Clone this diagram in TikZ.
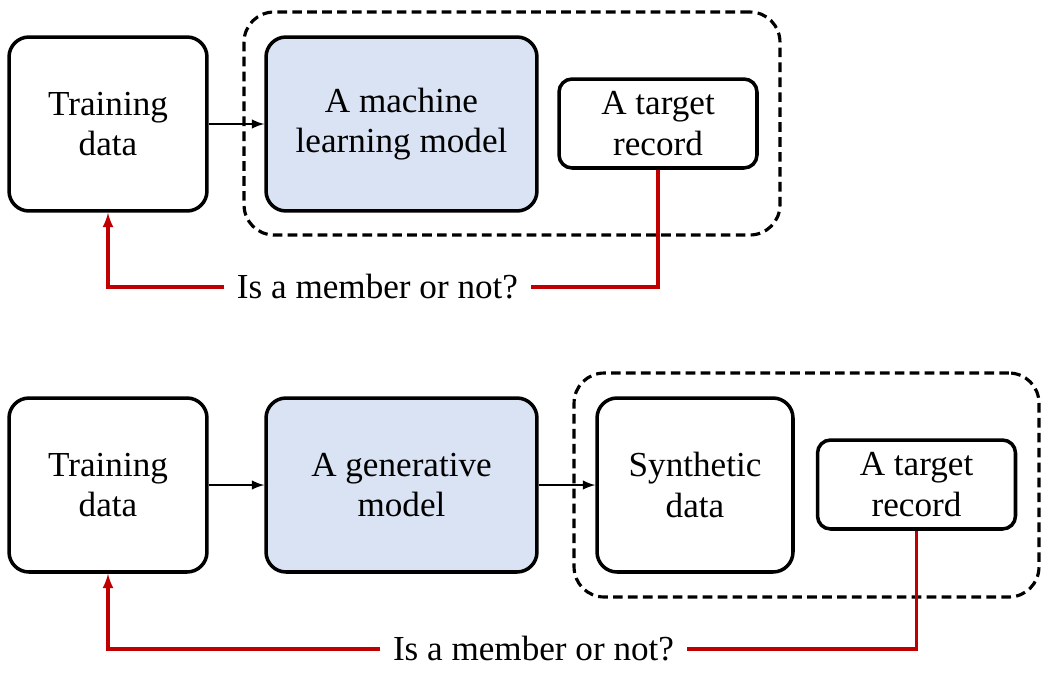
\documentclass[tikz,border=0pt]{standalone}
\usepackage{fontspec}
\setmainfont{Liberation Serif}
\usetikzlibrary{shapes,arrows}
\definecolor{boxblue}{HTML}{DAE3F3}
\definecolor{darkred}{HTML}{C00000}

\begin{document}
\begin{tikzpicture}[x=0.02cm,y=-0.02cm,
                every path/.style={>=latex},every node/.style={font=\fontsize{20}{23}\selectfont},
                box/.style={draw,align=center,line width=2pt,rounded corners=0.4cm,minimum width=3.96cm,minimum height=3.48cm,inner sep=0pt},
                model/.style={box,fill=boxblue,minimum width=5.42cm},
                record/.style={box,rounded corners=0.26cm,minimum height=1.78cm},
                group/.style={draw,line width=1.8pt,dash pattern=on 5.5pt off 3pt,rounded corners=0.6cm},
                flow/.style={->,line width=1.4pt},
                query/.style={line width=1.8pt,darkred}]
  \useasboundingbox (0,0) rectangle (1050,673);
  % top: attack on a trained model
  \node[group,minimum width=10.72cm,minimum height=4.46cm] (g1) at (512,123.5) {};
  \node[box]    (td1) at (108,124)   {Training\\data};
  \node[model]  (ml)  at (401.5,124) {A machine\\learning model};
  \node[record] (tr1) at (658,123.5) {A target\\record};
  \node[inner xsep=7pt,inner ysep=0pt] (q1) at (377.5,287) {Is a member or not?};
  \draw[flow] (td1) -- (ml);
  \draw[query] (tr1.south) |- (q1.east);
  \draw[query,->] (q1.west) -| (td1.south);
  % bottom: attack on synthetic data
  \node[group,minimum width=9.3cm,minimum height=4.48cm] (g2) at (806.5,485) {};
  \node[box]    (td2) at (108,485)   {Training\\data};
  \node[model]  (gm)  at (401.5,485) {A generative\\model};
  \node[box,minimum width=3.92cm] (sd) at (695,485) {Synthetic\\data};
  \node[record] (tr2) at (916.5,484.5) {A target\\record};
  \node[inner xsep=7pt,inner ysep=0pt] (q2) at (533.5,649) {Is a member or not?};
  \draw[flow] (td2) -- (gm);
  \draw[flow] (gm) -- (sd);
  \draw[query] (tr2.south) |- (q2.east);
  \draw[query,->] (q2.west) -| (td2.south);
\end{tikzpicture}
\end{document}
